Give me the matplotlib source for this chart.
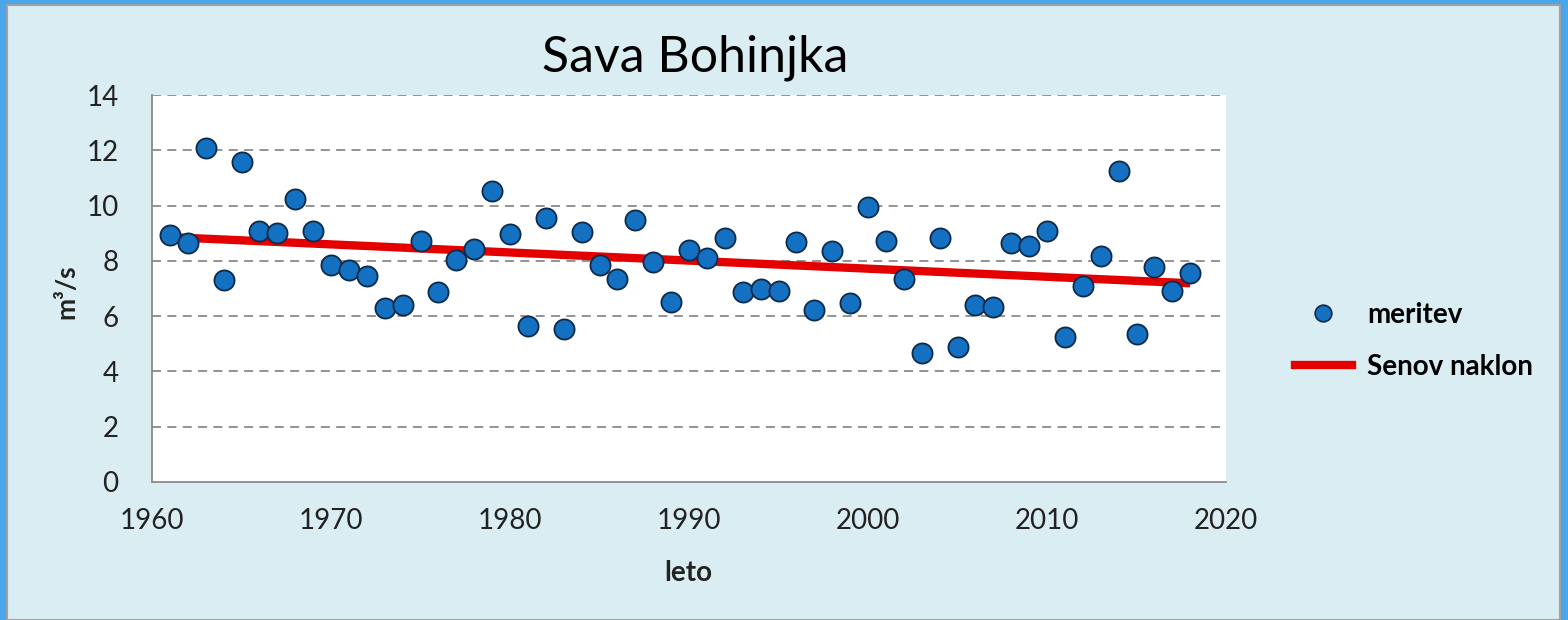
import matplotlib
matplotlib.use("Agg")
import matplotlib.pyplot as plt
from matplotlib.patches import Rectangle
from matplotlib.lines import Line2D

years = list(range(1961, 2019))
flow = [8.94, 8.66, 12.08, 7.31, 11.58, 9.08, 9.01, 10.23, 9.08, 7.85,
        7.67, 7.45, 6.30, 6.40, 8.72, 6.87, 8.03, 8.43, 10.53, 8.96,
        5.64, 9.54, 5.54, 9.06, 7.85, 7.33, 9.48, 7.97, 6.52, 8.39,
        8.09, 8.84, 6.86, 6.98, 6.92, 8.67, 6.22, 8.37, 6.47, 9.95,
        8.72, 7.33, 4.66, 8.84, 4.90, 6.40, 6.34, 8.66, 8.55, 9.07,
        5.24, 7.10, 8.18, 11.26, 5.35, 7.79, 6.92, 7.57]
trend_years = [1961, 2018]
trend_values = [8.86, 7.19]

title = "Sava Bohinjka"
xlabel = "leto"
ylabel = "m³/s"
legend_labels = ["meritev", "Senov naklon"]
xticks = [1960, 1970, 1980, 1990, 2000, 2010, 2020]
yticks = [0, 2, 4, 6, 8, 10, 12, 14]

FONT = ["Lato", "DejaVu Sans"]
W, H = 1568, 620
fig = plt.figure(figsize=(W / 100, H / 100), dpi=100)
fig.patch.set_facecolor("#4aa6e8")
fig.patches.append(Rectangle((7 / W, 0), (1560 - 7) / W, (H - 5) / H,
                             transform=fig.transFigure, facecolor="#daedf3",
                             edgecolor="#9aa4a8", linewidth=1.5, zorder=-5))

ax = fig.add_axes([152 / W, (H - 482) / H, (1226 - 152) / W, (482 - 95) / H])
ax.set_zorder(1)
ax.set_facecolor("white")
ax.set_xlim(1960, 2020)
ax.set_ylim(0, 14)
ax.set_xticks(xticks)
ax.set_yticks(yticks)
ax.set_xticklabels([str(t) for t in xticks], fontsize=20, family=FONT, color="#222222")
ax.set_yticklabels([str(t) for t in yticks], fontsize=20, family=FONT, color="#222222")
ax.tick_params(axis="both", length=0)
ax.tick_params(axis="x", pad=19)
ax.tick_params(axis="y", pad=24)

for v in yticks[1:]:
    ax.axhline(v, color="#8a8a8a", linewidth=1.3, linestyle=(0, (5, 3.5)), zorder=1)
for s in ["top", "right"]:
    ax.spines[s].set_visible(False)
for s in ["left", "bottom"]:
    ax.spines[s].set_color("#8a8a8a")
    ax.spines[s].set_linewidth(1.3)

ax.plot(trend_years, trend_values, color="#e50000", linewidth=6, solid_capstyle="butt", zorder=2)
ax.plot(years, flow, linestyle="none", marker="o", markersize=14.5,
        markerfacecolor="#1470c0", markeredgecolor="#0d2a4a", markeredgewidth=1.3, zorder=3)

fig.text(695 / W, 1 - 58 / H, title, fontsize=36, family=FONT, ha="center", va="center", color="black")
fig.text(688 / W, 1 - 573 / H, xlabel, fontsize=20, family=FONT, fontweight="bold", ha="center", va="center", color="#222222")
fig.text(66 / W, 1 - 292 / H, ylabel, fontsize=19, family=FONT, fontweight="bold", ha="center", va="center", rotation=90, color="#222222")

handles = [Line2D([], [], linestyle="none", marker="o", markersize=12,
                  markerfacecolor="#1470c0", markeredgecolor="#0d2a4a", markeredgewidth=1.2),
           Line2D([], [], color="#e50000", linewidth=6)]
fig.legend(handles, legend_labels, loc="center left", bbox_to_anchor=(1295 / W, 1 - 341 / H),
           frameon=False, prop={"family": FONT, "size": 20, "weight": "bold"},
           handlelength=2.05, handletextpad=0.55, labelspacing=0.95,
           borderpad=0, borderaxespad=0)

fig.savefig("out.png", dpi=100, facecolor=fig.get_facecolor())
